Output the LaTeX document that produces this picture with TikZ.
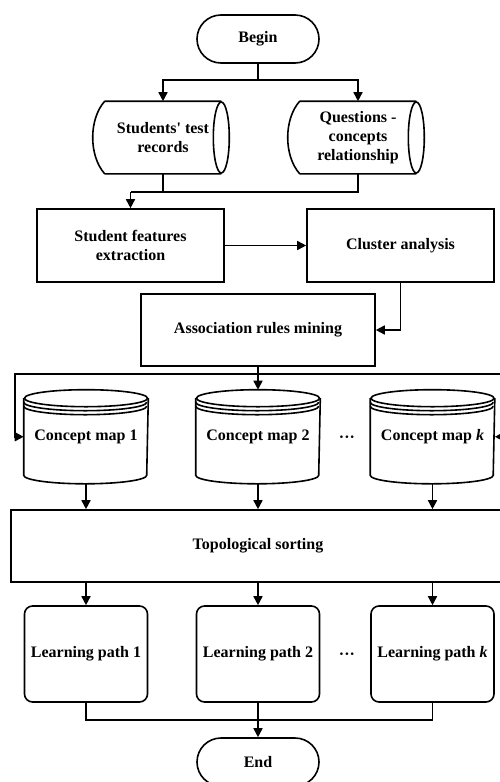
\documentclass[tikz,border=0pt]{standalone}
\usepackage{fontspec}
\setmainfont{Liberation Serif}
\usetikzlibrary{arrows.meta,shapes.misc,calc}
\begin{document}
\begin{tikzpicture}[x=1pt,y=1pt,
  line width=1.6pt,
  font=\fontsize{16}{19}\selectfont\bfseries,
  arr/.style={-{Triangle[length=9pt,width=9pt]}},
  term/.style={rounded rectangle, draw, minimum width=122pt, minimum height=48pt, inner sep=0pt},
  proc/.style={rectangle, draw, inner sep=0pt, align=center},
  store/.style={inner sep=0pt, minimum width=115pt, minimum height=71pt, align=center},
  cyl/.style={inner sep=0pt, minimum width=123pt, minimum height=92.5pt},
  lpbox/.style={rectangle, rounded corners=8pt, draw, minimum width=123pt, minimum height=96pt, inner sep=0pt},
]
\useasboundingbox (0,0) rectangle (499,-782);

% nodes
\node[term] (begin) at (258,-39) {Begin};
\node[store] (stu) at (163,-137.5) {Students\textquotesingle{} test\\records};
\node[store] (que) at (358,-137.5) {Questions -\\concepts\\relationship};
\node[proc, minimum width=187pt, minimum height=73pt] (sf) at (130.5,-245.5) {Student features\\extraction};
\node[proc, minimum width=187pt, minimum height=73pt] (ca) at (400.5,-245.5) {Cluster analysis};
\node[proc, minimum width=234pt, minimum height=72pt] (arm) at (258,-330) {Association rules mining};
\node[cyl] (cm1) at (86,-436.75) {Concept map 1};
\node[cyl] (cm2) at (258,-436.75) {Concept map 2};
\node[cyl] (cmk) at (432.5,-436.75) {Concept map \textit{k}};
\node (dots1) at (347,-439) {···};
\node[proc, minimum width=494pt, minimum height=72pt] (topo) at (258,-546) {Topological sorting};
\node[lpbox] (lp1) at (86,-654) {Learning path 1};
\node[lpbox] (lp2) at (258,-654) {Learning path 2};
\node[lpbox] (lpk) at (432.5,-654) {Learning path \textit{k}};
\node (dots2) at (347,-656) {···};
\node[term] (end) at (258,-762) {End};

% stored data shapes
\foreach \n in {stu,que} {
  \draw (\n.north west) -- (\n.north east)
        (\n.south west) -- (\n.south east)
        (\n.north west) .. controls ($(\n.north west)+(-16,-18)$) and ($(\n.south west)+(-16,18)$) .. (\n.south west)
        (\n.east) ellipse [x radius=8, y radius=35.5];
}

% cylinders
\foreach \n in {cm1,cm2,cmk} {
  \draw ($(\n.north)+(0,-8.5)$) ellipse [x radius=61.5, y radius=8.5];
  \draw ($(\n.north west)+(0,-12.5)$) arc[start angle=180, end angle=360, x radius=61.5, y radius=8.5];
  \draw ($(\n.north west)+(0,-16.5)$) arc[start angle=180, end angle=360, x radius=61.5, y radius=8.5];
  \draw ($(\n.north west)+(0,-8.5)$) -- ($(\n.south west)+(0,8.5)$)
        arc[start angle=180, end angle=360, x radius=61.5, y radius=8.5]
        -- ($(\n.north east)+(0,-8.5)$);
}

% connectors
\coordinate (j1) at (258,-80);
\draw (begin.south) -- (j1);
\draw[arr] (j1) -| (stu.north);
\draw[arr] (j1) -| (que.north);

\coordinate (j2) at (130.5,-192);
\draw (stu.south) -- (stu.south |- j2);
\draw (que.south) |- (j2);
\draw[arr] (j2) -- (sf.north);

\draw[arr] (sf.east) -- (ca.west);
\draw[arr] (ca.south) |- (arm.east);

\coordinate (j3) at (258,-374);
\coordinate (lft) at (15,-374);
\coordinate (rgt) at (503,-374);
\draw (arm.south) -- (j3);
\draw[arr] (j3) -- (cm2.north);
\draw[arr] (j3) -- (lft) |- (cm1.west);
\draw[arr] (j3) -- (rgt) |- (cmk.east);

\draw[arr] (cm1.south) -- (cm1.south |- topo.north);
\draw[arr] (cm2.south) -- (cm2.south |- topo.north);
\draw[arr] (cmk.south) -- (cmk.south |- topo.north);

\draw[arr] (lp1.north |- topo.south) -- (lp1.north);
\draw[arr] (lp2.north |- topo.south) -- (lp2.north);
\draw[arr] (lpk.north |- topo.south) -- (lpk.north);

\coordinate (j4) at (258,-720);
\draw (lp1.south) |- (j4) -| (lpk.south);
\draw[arr] (lp2.south) -- (end.north);
\end{tikzpicture}
\end{document}
